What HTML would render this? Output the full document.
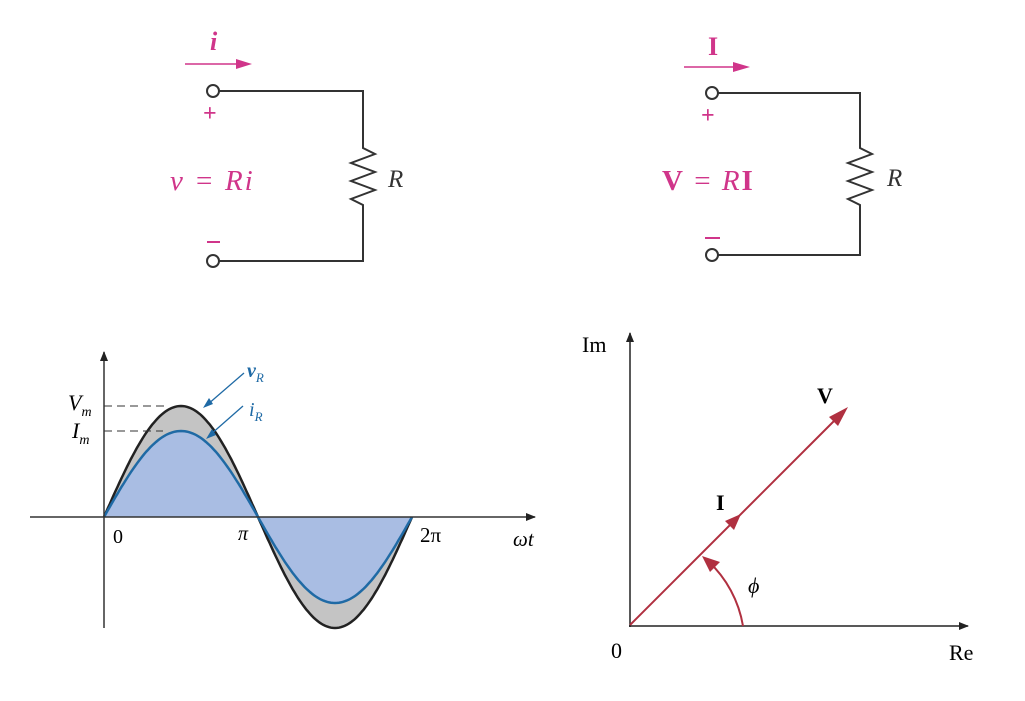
<!DOCTYPE html>
<html><head><meta charset="utf-8"><style>
html,body{margin:0;padding:0;background:#fff;}
svg{display:block;}
text{font-family:"Liberation Serif",serif;}
</style></head><body>
<svg id="s" width="1025" height="701" viewBox="0 0 1025 701" xmlns="http://www.w3.org/2000/svg">
<defs>
<marker id="ab" markerWidth="10" markerHeight="8" refX="9" refY="4" orient="auto" markerUnits="userSpaceOnUse"><path d="M0,0 L10,4 L0,8 Z" fill="#222"/></marker>
</defs>
<!-- Left circuit -->
<g stroke="#333" stroke-width="2" fill="none">
<path d="M219,91 H363 V148 L375,154 L351,163 L375,172 L351,181 L375,190 L351,199 L363,205 V261 H219"/>
<circle cx="213" cy="91" r="6" fill="#fff"/>
<circle cx="213" cy="261" r="6" fill="#fff"/>
</g>
<line x1="185" y1="64" x2="240" y2="64" stroke="#d0358a" stroke-width="1.5"/>
<path d="M236,59 L252,64 L236,69 Z" fill="#d0358a"/>
<text x="210" y="50" fill="#d0358a" font-size="26" font-style="italic" font-weight="bold">i</text>
<text x="203" y="121" fill="#d0358a" font-size="24" font-weight="bold">+</text>
<line x1="207" y1="242" x2="220" y2="242" stroke="#d0358a" stroke-width="2"/>
<text x="170" y="190" fill="#d0358a" font-size="29" font-style="italic" letter-spacing="2">v = Ri</text>
<text x="388" y="187" fill="#333" font-size="25" font-style="italic">R</text>
<!-- Right circuit -->
<g stroke="#333" stroke-width="2" fill="none">
<path d="M718,93 H860 V148 L872,154 L848,163 L872,172 L848,181 L872,190 L848,199 L860,205 V255 H718"/>
<circle cx="712" cy="93" r="6" fill="#fff"/>
<circle cx="712" cy="255" r="6" fill="#fff"/>
</g>
<line x1="684" y1="67" x2="738" y2="67" stroke="#d0358a" stroke-width="1.5"/>
<path d="M733,62 L750,67 L733,72 Z" fill="#d0358a"/>
<text x="708" y="55" fill="#d0358a" font-size="26" font-weight="bold">I</text>
<text x="701" y="123" fill="#d0358a" font-size="24" font-weight="bold">+</text>
<line x1="705" y1="238" x2="720" y2="238" stroke="#d0358a" stroke-width="2"/>
<text x="662" y="190" fill="#d0358a" font-size="29" letter-spacing="2"><tspan font-weight="bold">V</tspan> = <tspan font-style="italic">R</tspan><tspan font-weight="bold">I</tspan></text>
<text x="887" y="186" fill="#333" font-size="25" font-style="italic">R</text>
<!-- Sine plot -->
<path id="gray" fill="#c4c4c4" stroke="none"/>
<path id="blue" fill="#a9bde3" stroke="none"/>
<path id="vb" fill="none" stroke="#222" stroke-width="2.5"/>
<path id="ib" fill="none" stroke="#1f6aa5" stroke-width="2.5"/>
<line x1="104" y1="628" x2="104" y2="352" stroke="#333" stroke-width="1.5" marker-end="url(#ab)"/>
<line x1="30" y1="517" x2="535" y2="517" stroke="#333" stroke-width="1.5" marker-end="url(#ab)"/>
<line x1="104" y1="406" x2="165" y2="406" stroke="#333" stroke-width="1" stroke-dasharray="8,5"/>
<line x1="104" y1="431" x2="163" y2="431" stroke="#333" stroke-width="1" stroke-dasharray="8,5"/>
<text x="68" y="410" font-size="22" font-style="italic">V<tspan font-size="14" dy="6">m</tspan></text>
<text x="72" y="438" font-size="22" font-style="italic">I<tspan font-size="14" dy="6">m</tspan></text>
<text x="113" y="543" font-size="20">0</text>
<text x="238" y="540" font-size="20" font-style="italic">π</text>
<text x="420" y="542" font-size="21">2π</text>
<text x="513" y="546" font-size="21" font-style="italic">ωt</text>
<line x1="244" y1="373" x2="207" y2="405" stroke="#1f6aa5" stroke-width="1.3"/>
<path d="M203,408 L209,398 L213,404 Z" fill="#1f6aa5"/>
<line x1="243" y1="406" x2="210" y2="435" stroke="#1f6aa5" stroke-width="1.3"/>
<path d="M206,439 L212,429 L216,435 Z" fill="#1f6aa5"/>
<text x="247" y="377" fill="#1f6aa5" font-size="20" font-weight="bold" font-style="italic">v<tspan font-size="13" font-weight="normal" dy="5">R</tspan></text>
<text x="249" y="416" fill="#1f6aa5" font-size="20" font-style="italic">i<tspan font-size="13" dy="5">R</tspan></text>
<!-- Phasor -->
<line x1="630" y1="627" x2="630" y2="333" stroke="#222" stroke-width="1.5" marker-end="url(#ab)"/>
<line x1="629" y1="626" x2="968" y2="626" stroke="#222" stroke-width="1.5" marker-end="url(#ab)"/>
<line x1="630" y1="625" x2="842" y2="413" stroke="#b03040" stroke-width="2"/>
<path d="M848,407 L838,426 L829,417 Z" fill="#b03040"/>
<path d="M741,514 L734,530 L725,521 Z" fill="#b03040"/>
<path d="M743,626 A114,114 0 0 0 708,561" fill="none" stroke="#b03040" stroke-width="2"/>
<path d="M702,556 L720,562 L710,572 Z" fill="#b03040"/>
<text x="582" y="352" font-size="22">Im</text>
<text x="817" y="403" font-size="22" font-weight="bold">V</text>
<text x="716" y="510" font-size="22" font-weight="bold">I</text>
<text x="748" y="593" font-size="22" font-style="italic">ϕ</text>
<text x="611" y="658" font-size="22">0</text>
<text x="949" y="660" font-size="22">Re</text>
</svg>
<script>
function sp(A,N){var p=[];for(var k=0;k<=N;k++){var x=104+308*k/N;p.push(x.toFixed(1)+","+(517-A*Math.sin(2*Math.PI*k/N)).toFixed(1));}return p;}
var v=sp(111,160),i=sp(86,160);
document.getElementById('vb').setAttribute('d','M'+v.join(' L'));
document.getElementById('ib').setAttribute('d','M'+i.join(' L'));
document.getElementById('gray').setAttribute('d','M'+v.join(' L')+' Z');
document.getElementById('blue').setAttribute('d','M'+i.join(' L')+' Z');
</script>
</body></html>
